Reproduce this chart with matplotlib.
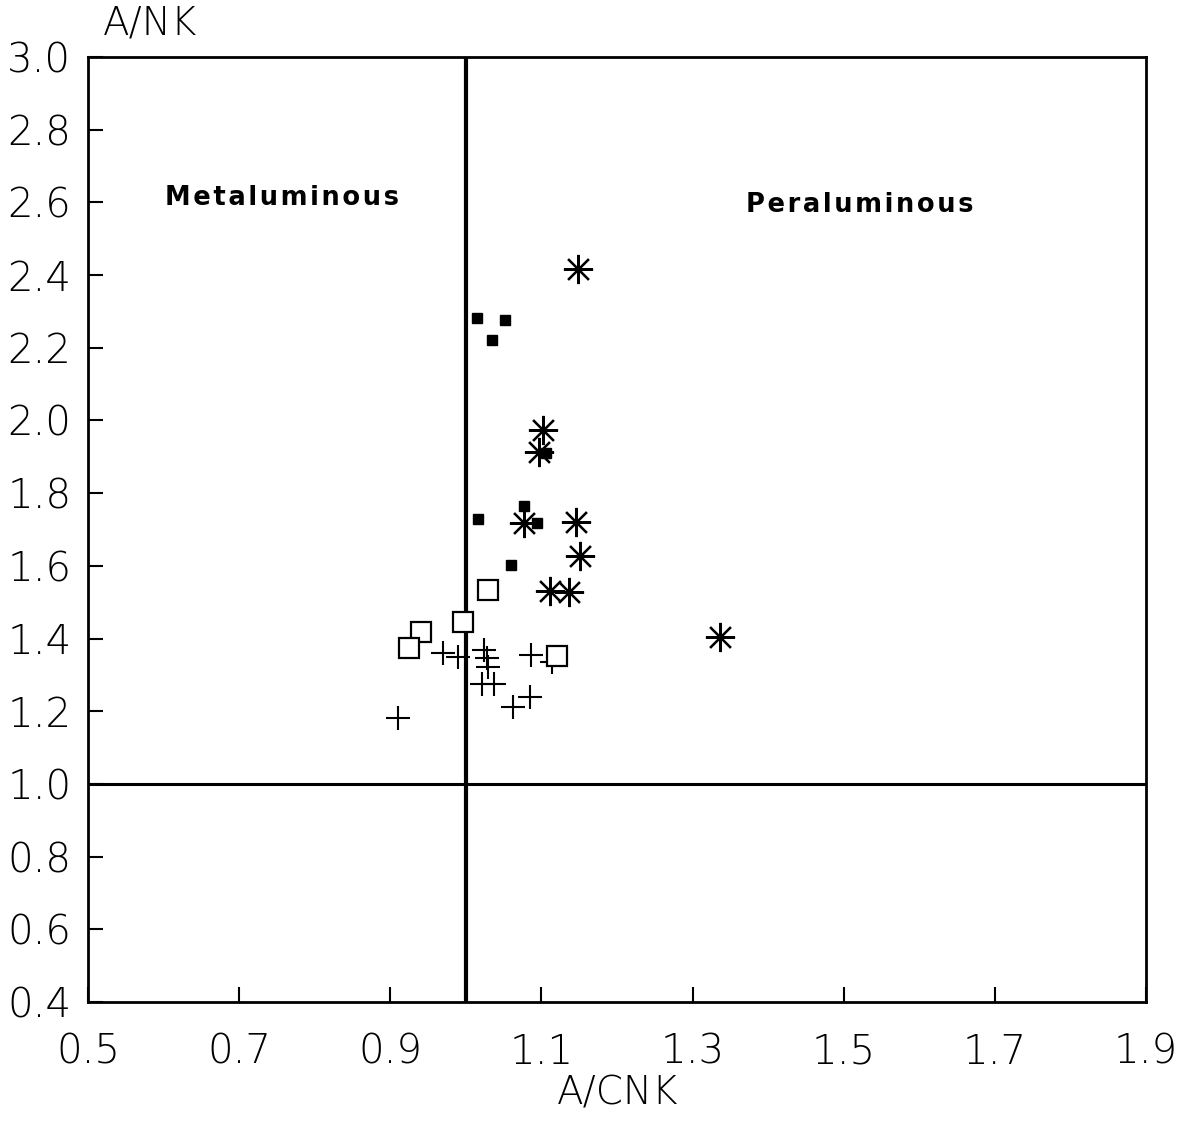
import matplotlib
matplotlib.use("Agg")
import matplotlib.pyplot as plt

# Data
ast_x = [1.148, 1.102, 1.097, 1.077, 1.146, 1.151, 1.111, 1.136, 1.336]
ast_y = [2.417, 1.974, 1.913, 1.718, 1.721, 1.627, 1.531, 1.528, 1.404]

fsq_x = [1.015, 1.052, 1.035, 1.016, 1.077, 1.094, 1.060, 1.106]
fsq_y = [2.282, 2.276, 2.221, 1.729, 1.765, 1.718, 1.602, 1.911]

osq_x = [1.029, 0.996, 0.941, 0.925, 1.121]
osq_y = [1.534, 1.446, 1.418, 1.374, 1.352]

plus_x = [0.970, 0.990, 1.024, 1.028, 1.029, 1.021, 1.037, 1.086, 1.114, 1.085, 1.062, 0.910]
plus_y = [1.360, 1.349, 1.369, 1.347, 1.322, 1.275, 1.275, 1.355, 1.336, 1.239, 1.212, 1.182]

xticks = [0.5, 0.7, 0.9, 1.1, 1.3, 1.5, 1.7, 1.9]
yticks = [0.4, 0.6, 0.8, 1.0, 1.2, 1.4, 1.6, 1.8, 2.0, 2.2, 2.4, 2.6, 2.8, 3.0]

fig = plt.figure(figsize=(11.81, 11.39), dpi=100)
ax = fig.add_axes([88/1181, 1-1002/1139, (1146-88)/1181, (1002-57)/1139])

ax.set_xlim(0.5, 1.9)
ax.set_ylim(0.4, 3.0)

ax.axvline(1.0, color='black', lw=3)
ax.axhline(1.0, color='black', lw=2.2)

ax.plot(plus_x, plus_y, ls='none', marker='+', ms=17, mew=1.5, color='black')
ax.plot(osq_x, osq_y, ls='none', marker='s', ms=14.5, mew=1.6, mfc='white', mec='black')
ax.plot(fsq_x, fsq_y, ls='none', marker='s', ms=6.5, color='black')
ax.plot(ast_x, ast_y, ls='none', marker=(8, 2, 0), ms=21, mew=1.6, color='black')

tick_font = dict(family='DejaVu Sans', weight='light', size=29)
ax.set_xticks(xticks)
ax.set_xticklabels([f"{v:.1f}" for v in xticks], fontdict=tick_font)
ax.set_yticks(yticks)
ax.set_yticklabels([f"{v:.1f}" for v in yticks], fontdict=tick_font)
ax.tick_params(axis='both', direction='in', length=11, width=1.5, color='black')
ax.tick_params(axis='x', pad=22)
ax.tick_params(axis='y', pad=12)

for s in ax.spines.values():
    s.set_linewidth(2)

fig.text(150/1181, 1-24/1139, "A/NK", ha='center', va='center',
         fontsize=28, fontweight='light', family='DejaVu Sans')
fig.text(618/1181, 1-1093/1139, "A/CNK", ha='center', va='center',
         fontsize=28, fontweight='light', family='DejaVu Sans')

fig.text(282/1181, 1-198/1139, "M e t a l u m i n o u s".replace(" ", "\u200a"), ha='center', va='center',
         fontsize=18.5, fontweight='bold', family='DejaVu Sans')
fig.text(860/1181, 1-205/1139, "P e r a l u m i n o u s".replace(" ", "\u200a"), ha='center', va='center',
         fontsize=18.5, fontweight='bold', family='DejaVu Sans')

fig.savefig("out.png", dpi=100, facecolor='white')
